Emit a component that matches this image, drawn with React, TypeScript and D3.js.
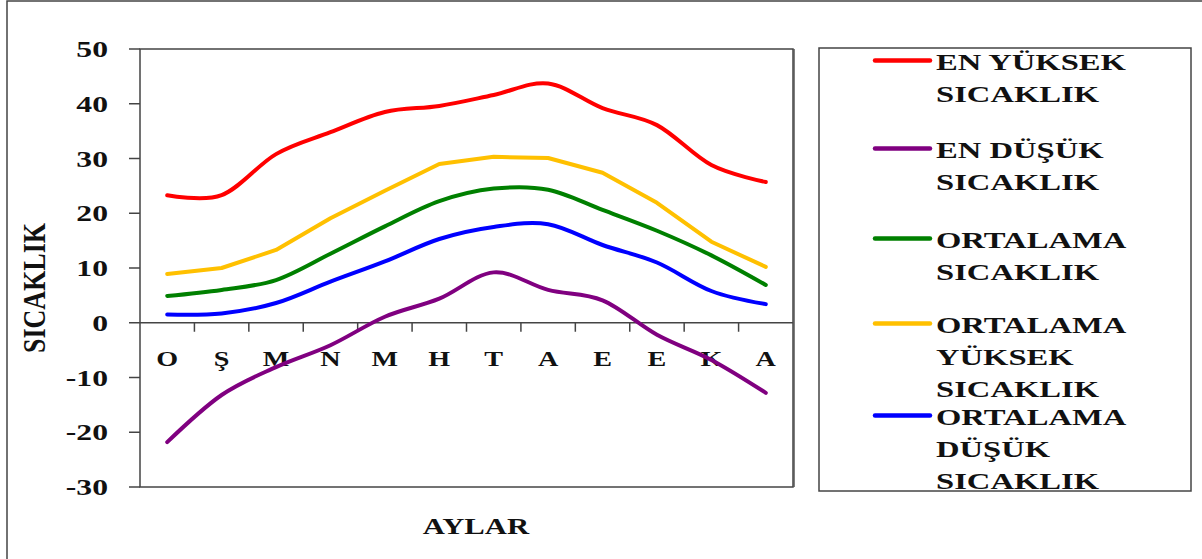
import * as d3 from 'd3';

const months = ['O', 'Ş', 'M', 'N', 'M', 'H', 'T', 'A', 'E', 'E', 'K', 'A'];
const yTicks = [-30, -20, -10, 0, 10, 20, 30, 40, 50];

const enYuksek = [23.3, 23.3, 30.8, 34.8, 38.5, 39.6, 41.6, 43.7, 39.2, 36.1, 28.8, 25.7];
const enDusuk = [-21.8, -13.2, -8.1, -4.1, 1.1, 4.4, 9.2, 6.0, 4.1, -2.2, -6.8, -12.8];
const ortalama = [4.9, 6.0, 7.8, 12.6, 17.6, 22.2, 24.5, 24.3, 20.6, 16.8, 12.3, 6.9];
const ortYuksek = [8.9, 10.0, 13.3, 19.1, 24.1, 29.0, 30.3, 30.1, 27.4, 21.9, 14.8, 10.2];
const ortDusuk = [1.5, 1.7, 3.6, 7.5, 11.2, 15.3, 17.5, 18.0, 14.2, 11.0, 5.8, 3.4];

const series = [
  { name: ['EN YÜKSEK', 'SICAKLIK'], values: enYuksek, color: '#ff0000', smooth: true },
  { name: ['EN DÜŞÜK', 'SICAKLIK'], values: enDusuk, color: '#800080', smooth: true },
  { name: ['ORTALAMA', 'SICAKLIK'], values: ortalama, color: '#008000', smooth: true },
  { name: ['ORTALAMA', 'YÜKSEK', 'SICAKLIK'], values: ortYuksek, color: '#ffc000', smooth: false },
  { name: ['ORTALAMA', 'DÜŞÜK', 'SICAKLIK'], values: ortDusuk, color: '#0000ff', smooth: true }
];

const FONT = 'Liberation Serif, DejaVu Serif, Times New Roman, serif';

export default function App() {
  const width = 1202;
  const height = 559;
  const plot = { left: 140, right: 793, top: 49, bottom: 487 };

  const x = d3
    .scaleBand<number>()
    .domain(d3.range(months.length))
    .range([plot.left, plot.right]);
  const y = d3.scaleLinear().domain([-30, 50]).range([plot.bottom, plot.top]);
  const y0 = y(0);

  const smoothLine = d3
    .line<number>()
    .x((_, i) => (x(i) as number) + x.bandwidth() / 2)
    .y((d) => y(d))
    .curve(d3.curveCardinal.tension(0));
  const straightLine = d3
    .line<number>()
    .x((_, i) => (x(i) as number) + x.bandwidth() / 2)
    .y((d) => y(d));

  // legend entry baselines (first text line of each entry)
  const legendTops = [70, 158, 248, 333, 425];
  const legendStep = 32;

  return (
    <svg
      width={width}
      height={height}
      style={{ position: 'absolute', left: 0, top: 0, background: '#fff', fontFamily: FONT, fontWeight: 'bold' }}
    >
      {/* outer frame */}
      <rect x={7} y={1} width={1220} height={600} fill='none' stroke='#444' strokeWidth={1.5} />

      {/* plot frame */}
      <rect
        x={plot.left}
        y={plot.top}
        width={plot.right - plot.left}
        height={plot.bottom - plot.top}
        fill='none'
        stroke='#444'
        strokeWidth={1.5}
      />
      <line x1={plot.right + 1} x2={plot.right + 1} y1={plot.top} y2={plot.bottom} stroke='#555' strokeWidth={1.5} />

      {/* y ticks */}
      {yTicks.map((t) => (
        <g key={t}>
          <line x1={129} x2={plot.left} y1={y(t)} y2={y(t)} stroke='#444' strokeWidth={1.5} />
          <text
            transform={`translate(108,${y(t) + 8}) scale(1.32,1)`}
            textAnchor='end'
            fontSize={24}
            fill='#111'
          >
            {t}
          </text>
        </g>
      ))}

      {/* zero axis */}
      <line x1={plot.left} x2={plot.right} y1={y0} y2={y0} stroke='#444' strokeWidth={1.5} />
      {months.slice(1).map((_, i) => (
        <line
          key={i}
          x1={x(i + 1) as number}
          x2={x(i + 1) as number}
          y1={y0}
          y2={y0 + 9}
          stroke='#444'
          strokeWidth={1.5}
        />
      ))}
      {months.map((m, i) => (
        <text
          key={i}
          transform={`translate(${(x(i) as number) + x.bandwidth() / 2},${y0 + 43}) scale(1.28,1)`}
          textAnchor='middle'
          fontSize={22}
          fill='#111'
        >
          {m}
        </text>
      ))}

      {/* axis titles */}
      <text
        transform={`translate(476,534) scale(1.28,1)`}
        textAnchor='middle'
        fontSize={24}
        fill='#111'
      >
        AYLAR
      </text>
      <text
        transform={`translate(45,288) rotate(-90) scale(1,1.25)`}
        textAnchor='middle'
        fontSize={26}
        fill='#111'
      >
        SICAKLIK
      </text>

      {/* series */}
      {series.map((s) => (
        <path
          key={s.color}
          d={(s.smooth ? smoothLine : straightLine)(s.values) ?? ''}
          fill='none'
          stroke={s.color}
          strokeWidth={4}
          strokeLinejoin='round'
          strokeLinecap='round'
        />
      ))}

      {/* legend */}
      {series.map((s, i) => (
        <g key={s.color}>
          <line
            x1={875}
            x2={930}
            y1={legendTops[i] - 9.5}
            y2={legendTops[i] - 9.5}
            stroke={s.color}
            strokeWidth={4.5}
            strokeLinecap='round'
          />
          {s.name.map((t, j) => (
            <text
              key={j}
              transform={`translate(936,${legendTops[i] + j * legendStep}) scale(1.36,1)`}
              fontSize={24}
              fill='#111'
            >
              {t}
            </text>
          ))}
        </g>
      ))}
      <rect x={819} y={48} width={372} height={443} fill='none' stroke='#444' strokeWidth={1.5} />
    </svg>
  );
}
